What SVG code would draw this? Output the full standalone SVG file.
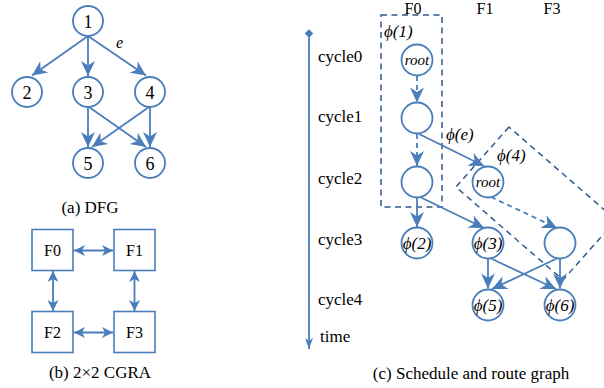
<svg xmlns="http://www.w3.org/2000/svg" width="604" height="388" viewBox="0 0 604 388" font-family="'Liberation Serif', 'Times New Roman', serif">
  <defs>
    <style>
      .nd { fill: #fff; stroke: #4A7EBB; stroke-width: 1.8; }
      .box { fill: #fff; stroke: #4A7EBB; stroke-width: 1.6; }
      .ed { fill: none; stroke: #4A7EBB; stroke-width: 1.8; }
      .dash { stroke-dasharray: 5 4; }
      .grp { fill: none; stroke: #2E5A8C; stroke-width: 1.5; stroke-dasharray: 6 4.5; }
      .t { font-family: "Liberation Serif", "Times New Roman", serif; fill: #000; }
      .num { font-size: 18px; text-anchor: middle; }
      .pe { font-size: 16px; text-anchor: middle; }
      .cap { font-size: 17px; text-anchor: middle; }
      .lbl { font-size: 17px; }
      .it { font-style: italic; }
      .phi { font-size: 17px; font-style: italic; }
      .root { font-size: 15px; font-style: italic; text-anchor: middle; }
    </style>
    <marker id="ah" viewBox="-16 -8 17 16" refX="0" refY="0" markerWidth="17" markerHeight="16" orient="auto" markerUnits="userSpaceOnUse">
      <path d="M0,0 L-15,-7 L-10.5,0 L-15,7 Z" fill="#4A7EBB"/>
    </marker>
    <marker id="ahs" viewBox="-12 -6 13 12" refX="0" refY="0" markerWidth="13" markerHeight="12" orient="auto-start-reverse" markerUnits="userSpaceOnUse">
      <path d="M0,0 L-11,-5.5 L-8,0 L-11,5.5 Z" fill="#4A7EBB"/>
    </marker>
    <marker id="at" viewBox="-12 -5 13 10" refX="0" refY="0" markerWidth="13" markerHeight="10" orient="auto" markerUnits="userSpaceOnUse">
      <path d="M0,0 L-11,-4 L-8,0 L-11,4 Z" fill="#4A7EBB"/>
    </marker>
  </defs>

  <!-- (a) data-flow graph -->
  <g id="dfg-edges">
    <line class="ed" x1="88" y1="36" x2="32" y2="75.5" marker-end="url(#ah)"/>
    <line class="ed" x1="88" y1="36" x2="88" y2="76" marker-end="url(#ah)"/>
    <line class="ed" x1="88" y1="36" x2="146" y2="75.5" marker-end="url(#ah)"/>
    <line class="ed" x1="88" y1="107" x2="88" y2="147" marker-end="url(#ah)"/>
    <line class="ed" x1="89" y1="107" x2="146" y2="147" marker-end="url(#ah)"/>
    <line class="ed" x1="149" y1="107" x2="92" y2="147" marker-end="url(#ah)"/>
    <line class="ed" x1="150" y1="107" x2="150" y2="147" marker-end="url(#ah)"/>
    <text class="t it" x="116" y="48" font-size="16">e</text>
  </g>
  <g id="dfg-n1"><circle class="nd" cx="88" cy="21" r="15"/><text class="t num" x="88" y="27.5">1</text></g>
  <g id="dfg-n2"><circle class="nd" cx="27" cy="92" r="15"/><text class="t num" x="27" y="98.5">2</text></g>
  <g id="dfg-n3"><circle class="nd" cx="88" cy="92" r="15"/><text class="t num" x="88" y="98.5">3</text></g>
  <g id="dfg-n4"><circle class="nd" cx="150" cy="92" r="15"/><text class="t num" x="150" y="98.5">4</text></g>
  <g id="dfg-n5"><circle class="nd" cx="88" cy="163" r="15"/><text class="t num" x="88" y="169.5">5</text></g>
  <g id="dfg-n6"><circle class="nd" cx="150" cy="163" r="15"/><text class="t num" x="150" y="169.5">6</text></g>
  <text class="t cap" x="90" y="213">(a) DFG</text>

  <!-- (b) 2x2 CGRA -->
  <g id="cgra-links">
    <line class="ed" x1="74" y1="250.5" x2="113" y2="250.5" marker-start="url(#ahs)" marker-end="url(#ahs)"/>
    <line class="ed" x1="74" y1="332.5" x2="113" y2="332.5" marker-start="url(#ahs)" marker-end="url(#ahs)"/>
    <line class="ed" x1="53" y1="271" x2="53" y2="311" marker-start="url(#ahs)" marker-end="url(#ahs)"/>
    <line class="ed" x1="134.5" y1="271" x2="134.5" y2="311" marker-start="url(#ahs)" marker-end="url(#ahs)"/>
  </g>
  <g id="pe-f0"><rect class="box" x="32" y="229.5" width="41" height="41"/><text class="t pe" x="52.5" y="256">F0</text></g>
  <g id="pe-f1"><rect class="box" x="114" y="229.5" width="41" height="41"/><text class="t pe" x="134.5" y="256">F1</text></g>
  <g id="pe-f2"><rect class="box" x="32" y="311.5" width="41" height="41"/><text class="t pe" x="52.5" y="338">F2</text></g>
  <g id="pe-f3"><rect class="box" x="114" y="311.5" width="41" height="41"/><text class="t pe" x="134.5" y="338">F3</text></g>
  <text class="t cap" x="100" y="378">(b) 2×2 CGRA</text>

  <!-- (c) schedule and route graph -->
  <g id="time-axis">
    <line class="ed" x1="309" y1="34" x2="309" y2="349" stroke-width="1.6" marker-end="url(#at)"/>
    <rect x="-3" y="-3" width="6" height="6" fill="#4A7EBB" transform="translate(309 33.5) rotate(45)"/>
    <text class="t lbl" x="318" y="62">cycle0</text>
    <text class="t lbl" x="318" y="122">cycle1</text>
    <text class="t lbl" x="318" y="184">cycle2</text>
    <text class="t lbl" x="318" y="245">cycle3</text>
    <text class="t lbl" x="318" y="305">cycle4</text>
    <text class="t lbl" x="320" y="342">time</text>
  </g>
  <g id="columns">
    <text class="t pe" x="413" y="13.5">F0</text>
    <text class="t pe" x="485" y="13.5">F1</text>
    <text class="t pe" x="552" y="13.5">F3</text>
  </g>

  <!-- route groups -->
  <g id="group-phi1">
    <rect class="grp" x="381" y="15" width="61" height="192"/>
    <text class="t phi" x="384" y="37">ϕ(1)</text>
  </g>
  <g id="group-phi4">
    <polygon class="grp" points="509,127 456,187 563,280 616,220"/>
    <text class="t phi" x="497" y="161">ϕ(4)</text>
  </g>

  <g id="route-edges">
    <line class="ed dash" x1="417" y1="76" x2="417" y2="102.5" marker-end="url(#ah)"/>
    <line class="ed dash" x1="417" y1="134" x2="417" y2="166" marker-end="url(#ah)"/>
    <line class="ed" x1="419" y1="134" x2="484" y2="166" marker-end="url(#ah)"/>
    <text class="t phi" x="446" y="140">ϕ(e)</text>
    <line class="ed" x1="417" y1="198" x2="417" y2="227" marker-end="url(#ah)"/>
    <line class="ed" x1="420" y1="197" x2="484" y2="228" marker-end="url(#ah)"/>
    <line class="ed dash" x1="491" y1="197" x2="557" y2="228" marker-end="url(#ah)"/>
    <line class="ed" x1="488" y1="259" x2="488" y2="288.5" marker-end="url(#ah)"/>
    <line class="ed" x1="490" y1="258" x2="556" y2="289" marker-end="url(#ah)"/>
    <line class="ed" x1="558" y1="258" x2="492" y2="289" marker-end="url(#ah)"/>
    <line class="ed" x1="560" y1="259" x2="560" y2="288.5" marker-end="url(#ah)"/>
  </g>

  <g id="f0-c0-root"><circle class="nd" cx="417" cy="60" r="15.5"/><text class="t root" x="417" y="65">root</text></g>
  <g id="f0-c1"><circle class="nd" cx="417" cy="118" r="15.5"/></g>
  <g id="f0-c2"><circle class="nd" cx="417" cy="182" r="15.5"/></g>
  <g id="f0-c3-phi2"><circle class="nd" cx="417" cy="243" r="15.5"/><text class="t phi" x="417" y="249" text-anchor="middle">ϕ(2)</text></g>
  <g id="f1-c2-root"><circle class="nd" cx="488" cy="182" r="15.5"/><text class="t root" x="488" y="187">root</text></g>
  <g id="f1-c3-phi3"><circle class="nd" cx="488" cy="243" r="15.5"/><text class="t phi" x="488" y="249" text-anchor="middle">ϕ(3)</text></g>
  <g id="f3-c3"><circle class="nd" cx="560" cy="243" r="15.5"/></g>
  <g id="f1-c4-phi5"><circle class="nd" cx="488" cy="305" r="15.5"/><text class="t phi" x="488" y="311" text-anchor="middle">ϕ(5)</text></g>
  <g id="f3-c4-phi6"><circle class="nd" cx="560" cy="305" r="15.5"/><text class="t phi" x="560" y="311" text-anchor="middle">ϕ(6)</text></g>

  <text class="t cap" x="471" y="379" font-size="18">(c) Schedule and route graph</text>
</svg>
